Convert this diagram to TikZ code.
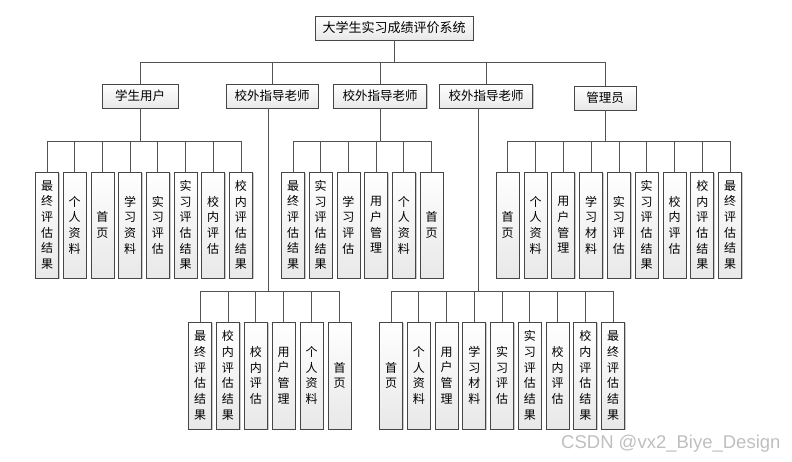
\documentclass[tikz,border=0pt]{standalone}
\usepackage{fontspec}
\newfontfamily\cjk{Noto Sans CJK SC}
\setsansfont{Liberation Sans}
\usetikzlibrary{shadows}

\tikzset{
  box/.style={draw=gray!55!black, line width=0.8pt, top color=white, bottom color=gray!18,
    drop shadow={shadow xshift=1.2pt, shadow yshift=-1.2pt, fill=gray!70, opacity=0.6},
    inner sep=0pt, font=\cjk\fontsize{12.5}{15}\selectfont},
  rolebox/.style={box, minimum height=24pt},
  leafbox/.style={box, minimum width=23pt, align=center, font=\cjk\fontsize{12}{15.7}\selectfont},
  link/.style={draw=gray!65!black, line width=0.8pt},
}

\begin{document}
\begin{tikzpicture}[x=1pt, y=-1pt]
    % page size of the reference
    \useasboundingbox (0,0) rectangle (792,462);

    % bus heights
    \coordinate (busroot) at (0,62);
    \coordinate (busA) at (0,141);
    \coordinate (busB) at (0,291);

    % root and the five roles
    \node[rolebox, minimum width=158pt, font=\cjk\fontsize{13}{15}\selectfont] (root) at (394,28) {大学生实习成绩评价系统};
    \node[rolebox, minimum width=76pt] (stu) at (140,96) {学生用户};
    \node[rolebox, minimum width=92pt] (tA) at (272,96) {校外指导老师};
    \node[rolebox, minimum width=93pt] (tB) at (380,96) {校外指导老师};
    \node[rolebox, minimum width=93pt] (tC) at (486,96) {校外指导老师};
    \node[rolebox, minimum width=62pt] (adm) at (605,98) {管理员};

    \foreach \r in {stu,tA,tB,tC,adm}
        \draw[link] (root.south) -- (root.south |- busroot) -| (\r.north);

    % drop points of the two long branches
    \coordinate (tAdrop) at ([xshift=-4pt]tA.south);
    \coordinate (tCdrop) at ([xshift=-8pt]tC.south);

    % student leaves (upper row)
    \foreach \t [count=\i, evaluate=\i as \x using 47+27.7*(\i-1)] in
        {{最\\终\\评\\估\\结\\果},{个\\人\\资\\料},{首\\页},{学\\习\\资\\料},
         {实\\习\\评\\估},{实\\习\\评\\估\\结\\果},{校\\内\\评\\估},{校\\内\\评\\估\\结\\果}}
    {
        \node[leafbox, minimum height=106pt] (stu\i) at (\x,225) {\t};
        \draw[link] (stu.south) -- (stu.south |- busA) -| (stu\i.north);
    }

    % second teacher leaves (upper row)
    \foreach \t [count=\i, evaluate=\i as \x using 293+27.7*(\i-1)] in
        {{最\\终\\评\\估\\结\\果},{实\\习\\评\\估\\结\\果},{学\\习\\评\\估},
         {用\\户\\管\\理},{个\\人\\资\\料},{首\\页}}
    {
        \node[leafbox, minimum height=106pt] (tB\i) at (\x,225) {\t};
        \draw[link] (tB.south) -- (tB.south |- busA) -| (tB\i.north);
    }

    % admin leaves (upper row)
    \foreach \t [count=\i, evaluate=\i as \x using 507.7+27.8*(\i-1)] in
        {{首\\页},{个\\人\\资\\料},{用\\户\\管\\理},{学\\习\\材\\料},{实\\习\\评\\估},
         {实\\习\\评\\估\\结\\果},{校\\内\\评\\估},{校\\内\\评\\估\\结\\果},{最\\终\\评\\估\\结\\果}}
    {
        \node[leafbox, minimum height=106pt] (adm\i) at (\x,225) {\t};
        \draw[link] (adm.south) -- (adm.south |- busA) -| (adm\i.north);
    }

    % first teacher leaves (lower row)
    \foreach \t [count=\i, evaluate=\i as \x using 200+27.9*(\i-1)] in
        {{最\\终\\评\\估\\结\\果},{校\\内\\评\\估\\结\\果},{校\\内\\评\\估},
         {用\\户\\管\\理},{个\\人\\资\\料},{首\\页}}
    {
        \node[leafbox, minimum height=107pt] (tA\i) at (\x,375.5) {\t};
        \draw[link] (tAdrop) -- (tAdrop |- busB) -| (tA\i.north);
    }

    % third teacher leaves (lower row)
    \foreach \t [count=\i, evaluate=\i as \x using 391+27.75*(\i-1)] in
        {{首\\页},{个\\人\\资\\料},{用\\户\\管\\理},{学\\习\\材\\料},{实\\习\\评\\估},
         {实\\习\\评\\估\\结\\果},{校\\内\\评\\估},{校\\内\\评\\估\\结\\果},{最\\终\\评\\估\\结\\果}}
    {
        \node[leafbox, minimum height=107pt] (tC\i) at (\x,375.5) {\t};
        \draw[link] (tCdrop) -- (tCdrop |- busB) -| (tC\i.north);
    }

    % watermark
    \node[anchor=base west, inner sep=0pt, text=gray!50, font=\sffamily\fontsize{18.5}{18.5}\selectfont] (mark) at (561,448) {CSDN @vx2\_Biye\_Design};
\end{tikzpicture}
\end{document}
